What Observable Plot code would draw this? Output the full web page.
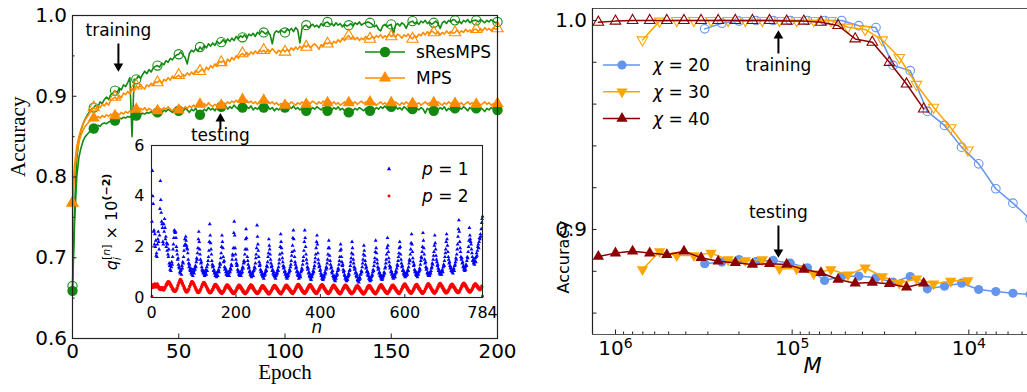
<!DOCTYPE html>
<html>
<head>
<meta charset="utf-8">
<script src="https://cdn.jsdelivr.net/npm/d3@7"></script>
<script src="https://cdn.jsdelivr.net/npm/@observablehq/plot@0.6"></script>
<style>
  html, body { margin: 0; padding: 0; background: #fff; }
  #fig { position: relative; width: 1027px; height: 392px; overflow: hidden; background: #fff; font-family: "DejaVu Sans", sans-serif; }
  #fig svg { position: absolute; overflow: visible; }
</style>
</head>
<body>
<div id="fig"></div>
<script>
// ---------------- DATA: left panel (accuracy vs epoch, epochs 0..200) ----------------
const sresTrain = [
 0.665,0.765,0.822,0.845,0.858,0.866,0.872,0.877,0.881,0.884,
 0.886,0.889,0.887,0.893,0.891,0.896,0.899,0.896,0.902,0.904,
 0.907,0.904,0.910,0.908,0.914,0.912,0.917,0.923,0.850,0.921,
 0.921,0.925,0.922,0.927,0.931,0.928,0.933,0.930,0.935,0.937,
 0.938,0.936,0.941,0.939,0.944,0.942,0.947,0.945,0.949,0.951,
 0.952,0.955,0.951,0.948,0.940,0.953,0.957,0.955,0.959,0.956,
 0.961,0.958,0.963,0.960,0.965,0.962,0.966,0.963,0.968,0.965,
 0.967,0.970,0.966,0.971,0.968,0.972,0.969,0.974,0.971,0.975,
 0.973,0.976,0.972,0.977,0.975,0.978,0.974,0.979,0.977,0.981,
 0.979,0.977,0.980,0.976,0.965,0.978,0.981,0.979,0.982,0.980,
 0.979,0.983,0.981,0.984,0.980,0.985,0.982,0.966,0.984,0.987,
 0.988,0.985,0.987,0.989,0.986,0.988,0.985,0.990,0.987,0.991,
 0.992,0.989,0.990,0.987,0.991,0.988,0.990,0.986,0.989,0.987,
 0.988,0.990,0.987,0.991,0.989,0.992,0.988,0.990,0.991,0.992,
 0.991,0.989,0.986,0.988,0.983,0.981,0.987,0.989,0.986,0.988,
 0.989,0.977,0.988,0.990,0.987,0.991,0.989,0.984,0.990,0.992,
 0.993,0.990,0.992,0.989,0.993,0.991,0.994,0.990,0.992,0.989,
 0.991,0.993,0.990,0.984,0.991,0.993,0.990,0.994,0.992,0.995,
 0.994,0.991,0.993,0.990,0.994,0.992,0.995,0.991,0.993,0.994,
 0.994,0.992,0.995,0.993,0.991,0.994,0.992,0.995,0.993,0.991,
 0.992];
const mpsTrain = [
 0.768,0.815,0.838,0.850,0.859,0.866,0.871,0.875,0.879,0.883,
 0.886,0.884,0.888,0.886,0.890,0.888,0.892,0.889,0.895,0.897,
 0.899,0.896,0.901,0.898,0.904,0.902,0.906,0.903,0.909,0.906,
 0.913,0.910,0.915,0.911,0.909,0.914,0.912,0.916,0.913,0.918,
 0.917,0.920,0.916,0.921,0.919,0.923,0.920,0.925,0.922,0.924,
 0.926,0.923,0.927,0.925,0.929,0.926,0.930,0.927,0.932,0.929,
 0.931,0.934,0.930,0.936,0.933,0.938,0.935,0.940,0.937,0.943,
 0.942,0.944,0.939,0.946,0.943,0.948,0.945,0.950,0.947,0.951,
 0.953,0.950,0.954,0.951,0.955,0.952,0.956,0.953,0.957,0.955,
 0.957,0.954,0.958,0.955,0.959,0.956,0.953,0.957,0.955,0.958,
 0.955,0.958,0.956,0.960,0.957,0.961,0.958,0.962,0.959,0.963,
 0.961,0.964,0.960,0.963,0.965,0.962,0.958,0.964,0.962,0.966,
 0.965,0.967,0.964,0.968,0.966,0.970,0.967,0.972,0.969,0.973,
 0.975,0.971,0.974,0.970,0.973,0.969,0.972,0.970,0.974,0.971,
 0.971,0.974,0.972,0.975,0.973,0.976,0.972,0.975,0.973,0.977,
 0.974,0.976,0.973,0.977,0.975,0.972,0.976,0.974,0.977,0.973,
 0.971,0.975,0.973,0.977,0.975,0.979,0.976,0.980,0.977,0.981,
 0.979,0.977,0.980,0.976,0.979,0.977,0.981,0.978,0.980,0.978,
 0.979,0.982,0.978,0.981,0.979,0.983,0.980,0.982,0.979,0.983,
 0.983,0.980,0.984,0.981,0.985,0.982,0.984,0.981,0.985,0.983,
 0.984];
const sresTest = [
 0.659,0.745,0.800,0.824,0.836,0.845,0.850,0.853,0.856,0.858,
 0.860,0.862,0.864,0.863,0.866,0.867,0.866,0.868,0.869,0.868,
 0.870,0.871,0.873,0.872,0.874,0.873,0.875,0.874,0.877,0.875,
 0.876,0.878,0.877,0.879,0.878,0.880,0.879,0.881,0.878,0.880,
 0.880,0.882,0.879,0.883,0.881,0.884,0.882,0.880,0.883,0.881,
 0.882,0.884,0.881,0.885,0.883,0.880,0.884,0.882,0.885,0.880,
 0.877,0.881,0.884,0.882,0.886,0.883,0.885,0.882,0.886,0.884,
 0.887,0.885,0.888,0.884,0.887,0.885,0.889,0.886,0.884,0.887,
 0.886,0.884,0.887,0.885,0.888,0.883,0.886,0.884,0.887,0.885,
 0.886,0.883,0.887,0.884,0.886,0.882,0.885,0.883,0.886,0.884,
 0.886,0.884,0.887,0.885,0.888,0.884,0.886,0.883,0.885,0.884,
 0.882,0.885,0.883,0.886,0.884,0.887,0.885,0.883,0.886,0.884,
 0.882,0.885,0.883,0.886,0.884,0.887,0.883,0.885,0.882,0.884,
 0.880,0.884,0.882,0.885,0.883,0.886,0.884,0.882,0.885,0.883,
 0.882,0.885,0.883,0.886,0.884,0.887,0.885,0.888,0.885,0.886,
 0.887,0.885,0.888,0.884,0.886,0.883,0.887,0.885,0.882,0.886,
 0.884,0.881,0.885,0.883,0.886,0.884,0.879,0.885,0.883,0.886,
 0.882,0.885,0.883,0.886,0.884,0.887,0.882,0.885,0.883,0.886,
 0.885,0.883,0.886,0.884,0.887,0.885,0.882,0.886,0.884,0.887,
 0.885,0.883,0.886,0.884,0.881,0.885,0.883,0.886,0.884,0.882,
 0.883];
const mpsTest = [
 0.768,0.808,0.828,0.843,0.852,0.858,0.863,0.866,0.869,0.871,
 0.873,0.872,0.875,0.873,0.876,0.874,0.877,0.875,0.878,0.876,
 0.876,0.879,0.877,0.880,0.878,0.881,0.879,0.882,0.880,0.883,
 0.884,0.882,0.885,0.883,0.886,0.882,0.885,0.883,0.881,0.884,
 0.882,0.885,0.883,0.886,0.884,0.887,0.884,0.882,0.885,0.883,
 0.883,0.886,0.884,0.887,0.885,0.888,0.886,0.889,0.887,0.890,
 0.890,0.887,0.891,0.888,0.892,0.889,0.887,0.890,0.888,0.891,
 0.889,0.892,0.890,0.893,0.891,0.894,0.892,0.895,0.893,0.896,
 0.896,0.893,0.895,0.892,0.894,0.891,0.893,0.890,0.894,0.892,
 0.895,0.892,0.894,0.891,0.893,0.890,0.892,0.889,0.891,0.890,
 0.889,0.892,0.890,0.893,0.891,0.889,0.892,0.890,0.893,0.891,
 0.890,0.893,0.891,0.894,0.892,0.890,0.893,0.891,0.894,0.892,
 0.892,0.894,0.891,0.893,0.890,0.892,0.889,0.891,0.893,0.890,
 0.892,0.894,0.891,0.893,0.890,0.892,0.894,0.891,0.893,0.892,
 0.893,0.890,0.892,0.889,0.891,0.893,0.890,0.892,0.889,0.891,
 0.892,0.890,0.893,0.891,0.889,0.892,0.890,0.893,0.891,0.889,
 0.891,0.893,0.890,0.892,0.889,0.891,0.893,0.890,0.892,0.891,
 0.892,0.890,0.893,0.891,0.889,0.892,0.890,0.893,0.891,0.892,
 0.891,0.893,0.890,0.892,0.889,0.891,0.893,0.890,0.892,0.890,
 0.890,0.892,0.889,0.891,0.893,0.890,0.892,0.889,0.891,0.890,
 0.891];
const leftXTicks = [0, 50, 100, 150, 200];
const leftYTicks = [0.6, 0.7, 0.8, 0.9, 1.0];
const leftYMinor = [0.65, 0.75, 0.85, 0.95];

// ---------------- DATA: inset q_i^[n] (n = 1..784, 28 rows of 28) ----------------
const qP1Rows = [
 [3.0,5.0,4.0,3.7,2.6,2.65,2.1,2.5,2.0,2.25,1.65,1.75,1.6,2.1,2.3,2.6,2.2,1.9,2.45,3.5,4.6,3.85,3.35,3.0,2.9,2.75,2.2,2.1],
 [2.9,2.6,3.1,2.75,2.3,2.4,2.0,2.15,1.85,2.1,1.7,1.6,1.9,1.35,1.25,1.1,1.3,1.05,1.2,1.4,1.3,1.6,1.9,2.1,2.35,2.65,2.6,2.55],
 [2.6,2.35,2.0,1.85,1.7,1.5,1.55,1.3,1.2,1.15,1.0,0.95,1.05,1.1,0.9,1.25,1.15,1.4,1.35,1.6,1.85,2.05,2.3,2.1,2.4,2.25,2.05,1.95],
 [1.9,1.75,1.5,1.35,1.2,1.3,1.1,1.05,1.15,0.95,1.0,0.9,1.1,0.85,1.0,1.05,0.95,1.15,1.1,1.25,1.2,1.4,1.55,1.5,1.75,1.95,2.3,2.6],
 [2.2,1.9,1.7,1.5,1.35,1.4,1.2,1.1,1.05,1.0,0.95,1.05,0.9,0.85,0.95,1.0,1.1,0.9,1.2,1.05,1.3,1.45,1.6,1.85,2.2,2.9,2.45,2.15],
 [1.9,1.7,1.45,1.3,1.2,1.25,1.05,1.1,0.95,1.0,0.85,0.9,0.95,0.8,0.9,1.0,0.85,1.05,1.1,1.0,1.2,1.35,1.3,1.55,1.75,2.0,2.45,2.2],
 [1.95,1.6,1.4,1.45,1.2,1.1,1.15,1.0,0.9,1.05,0.95,0.85,0.9,1.0,0.95,0.85,1.05,1.0,1.15,1.1,1.3,1.25,1.5,1.7,1.65,1.95,2.55,3.0],
 [2.45,1.95,1.7,1.5,1.35,1.25,1.3,1.1,1.0,1.05,0.9,0.95,0.85,0.9,1.0,0.85,0.95,1.1,1.0,1.2,1.15,1.35,1.45,1.4,1.7,1.9,2.3,2.7],
 [2.35,1.9,1.6,1.45,1.3,1.15,1.2,1.0,1.05,0.9,0.95,0.85,0.8,0.9,0.95,1.0,0.85,1.05,1.1,1.2,1.15,1.35,1.55,1.7,1.95,2.85,2.4,2.1],
 [1.85,1.6,1.4,1.25,1.3,1.1,1.0,1.05,0.9,0.95,0.85,0.8,0.9,0.75,0.85,0.95,0.9,1.0,1.1,1.05,1.25,1.2,1.4,1.6,1.75,2.3,2.05,1.9],
 [1.7,1.5,1.35,1.2,1.25,1.05,1.1,0.95,0.9,1.0,0.85,0.8,0.9,0.75,0.85,0.9,1.0,0.95,1.1,1.05,1.2,1.35,1.5,1.7,2.0,2.5,2.2,1.95],
 [1.75,1.55,1.4,1.25,1.15,1.2,1.0,1.05,0.9,0.95,0.8,0.85,0.75,0.8,0.9,0.85,0.95,1.0,1.1,1.05,1.2,1.3,1.45,1.65,1.8,2.05,2.35,2.65],
 [2.3,1.85,1.6,1.4,1.3,1.15,1.2,1.0,1.05,0.9,0.85,0.95,0.75,0.8,0.85,0.9,0.8,1.0,1.05,1.15,1.1,1.3,1.45,1.6,1.85,2.2,2.65,2.35],
 [2.0,1.7,1.5,1.35,1.2,1.1,1.15,0.95,1.0,0.85,0.8,0.9,0.75,0.7,0.85,0.8,0.9,0.95,1.05,1.0,1.15,1.25,1.4,1.55,1.7,1.95,2.2,2.45],
 [2.1,1.75,1.5,1.35,1.2,1.25,1.05,1.1,0.95,0.85,0.9,0.75,0.8,0.7,0.75,0.85,0.8,0.9,1.0,0.95,1.1,1.2,1.15,1.35,1.5,1.7,1.95,2.25],
 [1.95,1.65,1.45,1.3,1.15,1.2,1.0,0.95,1.05,0.85,0.8,0.75,0.85,0.7,0.65,0.8,0.75,0.85,0.95,0.9,1.05,1.15,1.1,1.3,1.45,1.6,1.85,2.1],
 [1.9,1.6,1.4,1.25,1.3,1.1,1.0,1.05,0.9,0.85,0.75,0.8,0.7,0.65,0.75,0.7,0.8,0.85,0.95,0.9,1.05,1.1,1.25,1.4,1.55,1.75,2.2,1.95],
 [1.7,1.5,1.35,1.2,1.1,1.15,0.95,1.0,0.85,0.8,0.9,0.7,0.65,0.75,0.6,0.7,0.8,0.75,0.9,0.95,1.05,1.0,1.2,1.35,1.5,1.7,2.05,1.85],
 [1.65,1.45,1.3,1.15,1.2,1.0,1.05,0.9,0.85,0.95,0.75,0.8,0.7,0.65,0.75,0.7,0.8,0.85,0.9,1.0,1.1,1.05,1.25,1.4,1.55,1.8,2.25,1.95],
 [1.75,1.5,1.35,1.2,1.1,1.15,0.95,1.0,0.85,0.9,0.8,0.75,0.85,0.7,0.75,0.8,0.85,0.9,1.0,0.95,1.15,1.2,1.35,1.5,1.7,1.95,2.35,2.05],
 [1.8,1.55,1.4,1.25,1.15,1.2,1.0,1.05,0.9,0.95,0.8,0.85,0.75,0.8,0.85,0.9,0.8,0.95,1.05,1.0,1.15,1.3,1.25,1.45,1.6,1.75,1.95,2.2],
 [2.0,1.7,1.5,1.35,1.2,1.25,1.05,1.1,0.95,0.9,1.0,0.85,0.8,0.9,0.85,0.95,1.0,0.9,1.1,1.05,1.2,1.35,1.5,1.45,1.7,1.9,2.15,2.5],
 [2.1,1.8,1.55,1.4,1.25,1.3,1.1,1.0,1.05,0.9,0.95,0.85,0.9,0.8,0.95,0.9,1.0,1.05,1.15,1.1,1.3,1.45,1.6,1.55,1.8,2.0,2.55,2.25],
 [1.95,1.7,1.5,1.35,1.4,1.2,1.1,1.15,0.95,1.0,0.9,0.85,0.95,0.85,0.9,1.0,0.95,1.05,1.15,1.2,1.35,1.3,1.5,1.65,1.8,2.05,2.45,2.15],
 [1.9,1.65,1.5,1.4,1.25,1.3,1.15,1.05,1.1,0.95,1.0,0.9,0.95,1.0,0.9,1.05,1.1,1.0,1.2,1.3,1.25,1.45,1.6,1.75,1.9,2.2,2.5,2.3],
 [2.05,1.8,1.6,1.5,1.35,1.4,1.25,1.15,1.2,1.05,1.1,1.0,1.05,0.95,1.1,1.15,1.05,1.25,1.3,1.4,1.55,1.5,1.7,1.9,2.1,2.4,2.7,3.05],
 [2.6,2.2,1.95,1.8,1.6,1.5,1.55,1.35,1.4,1.2,1.25,1.1,1.15,1.05,1.2,1.1,1.3,1.25,1.45,1.6,1.55,1.8,2.0,2.25,2.75,2.45,2.3,2.2],
 [2.1,1.9,1.75,1.6,1.45,1.5,1.35,1.4,1.3,1.45,1.55,1.4,1.6,1.75,1.65,1.85,2.0,2.1,1.95,2.2,2.35,2.3,2.5,2.4,2.7,2.95,3.1,3.2]
];
const qP2Rows = [
 [0.05,0.45,0.38,0.52,0.42,0.5,0.4,0.55,0.44,0.52,0.4,0.5,0.42,0.55,0.45,0.48,0.36,0.42,0.32,0.4,0.3,0.38,0.33,0.4,0.3,0.36,0.32,0.4],
 [0.28,0.36,0.32,0.42,0.38,0.5,0.45,0.56,0.5,0.62,0.55,0.64,0.56,0.62,0.52,0.58,0.46,0.52,0.4,0.45,0.33,0.38,0.28,0.33,0.24,0.3,0.23,0.28],
 [0.24,0.3,0.28,0.38,0.36,0.48,0.45,0.58,0.55,0.66,0.6,0.72,0.64,0.7,0.6,0.65,0.52,0.57,0.44,0.48,0.35,0.4,0.28,0.33,0.22,0.27,0.2,0.25],
 [0.22,0.28,0.26,0.35,0.33,0.45,0.42,0.54,0.5,0.62,0.55,0.64,0.57,0.62,0.52,0.57,0.45,0.5,0.38,0.42,0.3,0.35,0.24,0.29,0.19,0.25,0.18,0.23],
 [0.2,0.27,0.25,0.34,0.32,0.43,0.4,0.52,0.48,0.58,0.52,0.61,0.53,0.58,0.48,0.53,0.42,0.46,0.35,0.39,0.28,0.33,0.22,0.27,0.18,0.23,0.17,0.22],
 [0.19,0.26,0.23,0.33,0.29,0.41,0.36,0.47,0.41,0.52,0.44,0.53,0.43,0.5,0.39,0.46,0.34,0.4,0.28,0.34,0.23,0.29,0.19,0.25,0.16,0.22,0.15,0.21],
 [0.18,0.25,0.22,0.32,0.28,0.4,0.35,0.46,0.4,0.5,0.42,0.51,0.41,0.48,0.37,0.44,0.32,0.38,0.27,0.33,0.22,0.28,0.18,0.24,0.15,0.21,0.14,0.2],
 [0.18,0.24,0.21,0.31,0.27,0.38,0.33,0.44,0.38,0.49,0.41,0.5,0.4,0.47,0.36,0.43,0.31,0.37,0.26,0.32,0.21,0.27,0.17,0.23,0.14,0.2,0.14,0.19],
 [0.18,0.25,0.22,0.32,0.28,0.39,0.34,0.45,0.39,0.5,0.42,0.51,0.41,0.48,0.37,0.44,0.32,0.38,0.27,0.32,0.22,0.27,0.18,0.23,0.15,0.21,0.14,0.2],
 [0.17,0.24,0.21,0.3,0.26,0.37,0.32,0.43,0.37,0.47,0.39,0.48,0.38,0.45,0.34,0.41,0.3,0.36,0.25,0.31,0.2,0.26,0.16,0.22,0.13,0.19,0.13,0.18],
 [0.17,0.24,0.22,0.31,0.27,0.38,0.33,0.44,0.38,0.48,0.4,0.49,0.39,0.46,0.35,0.42,0.31,0.37,0.26,0.31,0.21,0.26,0.17,0.22,0.14,0.2,0.13,0.19],
 [0.18,0.25,0.22,0.32,0.28,0.39,0.34,0.45,0.39,0.49,0.41,0.5,0.4,0.47,0.36,0.43,0.32,0.38,0.27,0.33,0.22,0.28,0.18,0.24,0.15,0.21,0.14,0.2],
 [0.19,0.26,0.23,0.34,0.3,0.41,0.36,0.47,0.41,0.52,0.44,0.53,0.43,0.5,0.39,0.45,0.34,0.4,0.28,0.34,0.23,0.29,0.19,0.25,0.16,0.22,0.15,0.21],
 [0.18,0.25,0.22,0.33,0.29,0.4,0.35,0.46,0.4,0.51,0.43,0.52,0.42,0.49,0.38,0.44,0.33,0.39,0.27,0.33,0.22,0.28,0.18,0.24,0.15,0.21,0.14,0.2],
 [0.18,0.25,0.23,0.33,0.29,0.4,0.35,0.46,0.4,0.5,0.42,0.52,0.42,0.49,0.38,0.45,0.33,0.39,0.28,0.33,0.22,0.28,0.18,0.24,0.15,0.21,0.14,0.2],
 [0.17,0.24,0.21,0.31,0.27,0.38,0.33,0.44,0.39,0.49,0.41,0.5,0.4,0.47,0.36,0.42,0.31,0.37,0.26,0.32,0.21,0.27,0.17,0.23,0.14,0.2,0.13,0.19],
 [0.17,0.24,0.22,0.32,0.28,0.39,0.34,0.45,0.39,0.49,0.41,0.5,0.4,0.47,0.36,0.43,0.31,0.37,0.26,0.32,0.21,0.27,0.17,0.23,0.14,0.2,0.14,0.19],
 [0.17,0.23,0.21,0.3,0.26,0.37,0.32,0.43,0.37,0.47,0.39,0.48,0.38,0.45,0.34,0.41,0.3,0.36,0.25,0.3,0.2,0.26,0.16,0.22,0.13,0.19,0.13,0.18],
 [0.17,0.24,0.21,0.31,0.27,0.38,0.33,0.44,0.38,0.48,0.4,0.49,0.39,0.46,0.35,0.42,0.31,0.36,0.26,0.31,0.21,0.26,0.17,0.22,0.14,0.2,0.13,0.19],
 [0.18,0.25,0.22,0.32,0.28,0.4,0.35,0.46,0.4,0.5,0.42,0.52,0.41,0.49,0.37,0.44,0.33,0.38,0.27,0.33,0.22,0.28,0.18,0.24,0.15,0.21,0.14,0.2],
 [0.18,0.25,0.22,0.32,0.28,0.39,0.34,0.45,0.39,0.49,0.41,0.5,0.4,0.47,0.37,0.43,0.32,0.38,0.27,0.32,0.22,0.27,0.18,0.23,0.15,0.21,0.14,0.2],
 [0.19,0.26,0.24,0.34,0.31,0.42,0.37,0.48,0.42,0.53,0.45,0.55,0.44,0.52,0.4,0.46,0.35,0.41,0.29,0.35,0.24,0.29,0.19,0.25,0.16,0.22,0.15,0.21],
 [0.18,0.25,0.23,0.33,0.29,0.4,0.35,0.47,0.41,0.51,0.43,0.53,0.42,0.5,0.38,0.45,0.33,0.39,0.28,0.34,0.23,0.28,0.18,0.24,0.15,0.21,0.15,0.2],
 [0.19,0.26,0.24,0.34,0.31,0.42,0.37,0.49,0.43,0.54,0.46,0.56,0.45,0.52,0.41,0.47,0.36,0.42,0.3,0.35,0.24,0.3,0.2,0.26,0.16,0.22,0.16,0.21],
 [0.2,0.27,0.25,0.35,0.32,0.43,0.38,0.5,0.44,0.55,0.47,0.57,0.46,0.53,0.42,0.48,0.37,0.43,0.31,0.36,0.25,0.31,0.21,0.27,0.17,0.23,0.17,0.22],
 [0.2,0.27,0.24,0.34,0.31,0.42,0.37,0.48,0.42,0.52,0.44,0.54,0.44,0.51,0.4,0.46,0.36,0.41,0.3,0.36,0.25,0.3,0.21,0.27,0.18,0.24,0.18,0.23],
 [0.21,0.29,0.27,0.37,0.34,0.45,0.4,0.52,0.46,0.56,0.49,0.58,0.48,0.55,0.44,0.5,0.39,0.45,0.33,0.38,0.27,0.33,0.23,0.29,0.2,0.26,0.2,0.25],
 [0.24,0.31,0.29,0.38,0.35,0.46,0.41,0.51,0.45,0.55,0.47,0.55,0.45,0.51,0.41,0.47,0.37,0.43,0.33,0.39,0.3,0.36,0.3,0.38,0.36,0.46,0.42,0.05]
];
const insetXTicks = [0, 200, 400, 600, 784];
const insetYTicks = [0, 2, 4, 6];

// ---------------- DATA: right panel (accuracy vs M) ----------------
const M20 = [312500,250000,200000,160000,128000,102400,81920,65536,52429,41943,33554,26844,21475,17180,13744,10995,8796,7037,5629,4504];
const M30 = [703125,562500,450000,360000,288000,230400,184320,147456,117965,94372,75497,60398,48318,38655,30924,24739,19791,15833,12667,10133];
const M40 = [1250000,1000000,800000,640000,512000,409600,327680,262144,209715,167772,134218,107374,85899,68719,54976,43980,35184,28147,22518,18014];
const train20 = [0.996,0.9987,0.9997,1.0,1.0,1.0,1.0,1.0,1.0,0.9975,0.9966,0.9785,0.976,0.9565,0.9498,0.9394,0.9314,0.9195,0.9126,0.905];
const test20  = [0.8836,0.8844,0.8856,0.8847,0.8852,0.8839,0.8817,0.8756,0.8775,0.8777,0.8769,0.8748,0.8775,0.8716,0.8729,0.8743,0.8713,0.8703,0.8695,0.8689];
const train30 = [0.9907,0.9997,1.0,1.0,1.0,1.0,1.0,1.0,1.0,1.0,1.0,1.0,0.9968,0.9957,0.9907,0.9823,0.9694,0.9585,0.9487,0.938];
const test30  = [0.8809,0.8895,0.8876,0.8876,0.8887,0.8856,0.8852,0.8856,0.8812,0.8812,0.8788,0.8809,0.8783,0.8817,0.8775,0.8743,0.8764,0.874,0.8753,0.8756];
const train40 = [0.9992,0.9997,1.0,1.0,1.0,1.0,1.0,1.0,1.0,1.0,1.0,0.9997,0.9997,0.9992,0.9976,0.9912,0.9896,0.98,0.9696,0.9577];
const test40  = [0.8871,0.8887,0.8896,0.8887,0.8879,0.8896,0.8865,0.8848,0.8841,0.8833,0.8836,0.8833,0.8809,0.8793,0.8761,0.8743,0.8746,0.874,0.8724,0.8743];
const rightXTicks = [1e6, 1e5, 1e4];
const rightXMinor = [9e5,8e5,7e5,6e5,5e5,4e5,3e5,2e5,9e4,8e4,7e4,6e4,5e4,4e4,3e4,2e4,9e3,8e3,7e3,6e3,5e3];
const rightYTicks = [0.86,0.88,0.9,0.92,0.94,0.96,0.98,1.0];
const rightYLabeled = [0.9, 1.0];

// ---------------- styling / layout ----------------
const SANS = "DejaVu Sans, sans-serif";
const SERIF = "Liberation Serif, Times New Roman, serif";
const GREEN = "#128a12", ORANGE = "#ff8c00";
const C20 = "#6495ed", C30 = "#ffa500", C40 = "#8b0000";
const AX = "#222";

const fig = document.getElementById("fig");

// ---- left panel ----
const toEp = arr => arr.map((acc, epoch) => ({epoch, acc}));
const gTr = toEp(sresTrain), oTr = toEp(mpsTrain), gTe = toEp(sresTest), oTe = toEp(mpsTest);
const every10 = d => d.epoch % 10 === 0;

const leftNotes = [{label: "training", epoch: 21.6, acc: 0.9814}, {label: "testing", epoch: 69.6, acc: 0.8513}];
const leftArrows = [
  {epoch: 21.6, from: 0.9653, to: 0.9380, head: 0.9372, rot: 180},
  {epoch: 69.6, from: 0.8587, to: 0.8715, head: 0.8722, rot: 0}
];

const left = Plot.plot({
  width: 520, height: 392,
  marginLeft: 72, marginRight: 23, marginTop: 15, marginBottom: 54,
  x: {domain: [0, 200]},
  y: {domain: [0.6, 1.0]},
  style: {fontFamily: SANS, fontSize: "20px", background: "transparent", overflow: "visible", color: "#000", position: "absolute", left: "0px", top: "0px"},
  marks: [
    Plot.line(gTr, {x: "epoch", y: "acc", stroke: GREEN, strokeWidth: 1.6}),
    Plot.dot(gTr, {filter: every10, x: "epoch", y: "acc", r: 4.6, stroke: GREEN, strokeWidth: 1.1, fill: "none"}),
    Plot.line(oTr, {x: "epoch", y: "acc", stroke: ORANGE, strokeWidth: 1.6}),
    Plot.dot(oTr, {filter: every10, x: "epoch", y: "acc", symbol: "triangle", r: 4.2, stroke: ORANGE, strokeWidth: 1.1, fill: "none"}),
    Plot.line(gTe, {x: "epoch", y: "acc", stroke: GREEN, strokeWidth: 1.6}),
    Plot.dot(gTe, {filter: every10, x: "epoch", y: "acc", r: 5.2, fill: GREEN}),
    Plot.line(oTe, {x: "epoch", y: "acc", stroke: ORANGE, strokeWidth: 1.6}),
    Plot.dot(oTe, {filter: every10, x: "epoch", y: "acc", symbol: "triangle", r: 4.5, fill: ORANGE}),
    Plot.axisX({ticks: leftXTicks, tickSize: -4.5, tickPadding: 9.5, fontSize: 20, label: null, stroke: AX}),
    Plot.axisY({ticks: leftYTicks, tickSize: -4.5, tickPadding: 10, tickFormat: d => d.toFixed(1), fontSize: 20, label: null, stroke: AX}),
    Plot.axisY({ticks: leftYMinor, tickSize: -2.5, tickFormat: () => "", label: null, stroke: AX}),
    Plot.frame({stroke: AX, strokeWidth: 1.2}),
    Plot.text(["Accuracy"], {frameAnchor: "left", dx: -54, rotate: -90, fontFamily: SERIF, fontSize: 21}),
    Plot.text(["Epoch"], {frameAnchor: "bottom", dy: 40.5, fontFamily: SERIF, fontSize: 21}),
    Plot.text(leftNotes, {x: "epoch", y: "acc", text: "label", fontSize: 17}),
    Plot.link(leftArrows, {x1: "epoch", x2: "epoch", y1: "from", y2: "to", stroke: "black", strokeWidth: 2}),
    Plot.dot(leftArrows, {x: "epoch", y: "head", symbol: "triangle", r: 3.6, fill: "black", rotate: "rot"})
  ]
});
fig.appendChild(left);

// left legend
{
  const items = [
    {label: "sResMPS", color: GREEN, sym: d3.symbolCircle, size: 85},
    {label: "MPS", color: ORANGE, sym: d3.symbolTriangle, size: 64}
  ];
  const g = d3.select(left).append("g").attr("font-size", 17).attr("font-family", SANS).attr("text-anchor", "start");
  items.forEach((it, i) => {
    const y = 52 + i * 26;
    g.append("line").attr("x1", 365).attr("x2", 405).attr("y1", y).attr("y2", y).attr("stroke", it.color).attr("stroke-width", 1.6);
    g.append("path").attr("transform", `translate(385,${y})`).attr("d", d3.symbol(it.sym, it.size)()).attr("fill", it.color);
    g.append("text").attr("x", 416).attr("y", y).attr("dy", "0.36em").attr("text-anchor", "start").text(it.label);
  });
}

// ---- inset ----
const toQ = rows => rows.flatMap((row, r) => row.map((q, j) => ({n: r * 28 + j + 1, q})));
const qBlue = toQ(qP1Rows), qRed = toQ(qP2Rows);

const inset = Plot.plot({
  width: 400, height: 210,
  marginLeft: 51, marginRight: 18, marginTop: 15, marginBottom: 43,
  x: {domain: [0, 784]},
  y: {domain: [0, 6]},
  style: {fontFamily: SANS, fontSize: "16px", background: "transparent", overflow: "visible", color: "#000", position: "absolute", left: "100px", top: "130px"},
  marks: [
    Plot.frame({fill: "white", stroke: "none"}),
    Plot.dot(qBlue, {x: "n", y: "q", symbol: "triangle", r: 1.45, fill: "#0000ff"}),
    Plot.dot(qRed, {x: "n", y: "q", r: 1.4, fill: "#ff0000"}),
    Plot.axisX({ticks: insetXTicks, tickSize: -3, tickPadding: 12, fontSize: 16, label: null, stroke: AX}),
    Plot.axisY({ticks: insetYTicks, tickSize: -3, tickPadding: 10, tickFormat: d => String(d), fontSize: 16, label: null, stroke: AX}),
    Plot.frame({stroke: AX, strokeWidth: 1.1}),
    Plot.text(["n"], {frameAnchor: "bottom", dy: 35, fontStyle: "italic", fontSize: 17})
  ]
});
fig.appendChild(inset);
{
  const s = d3.select(inset);
  const t = s.append("text").attr("transform", "translate(17,92) rotate(-90)").attr("text-anchor", "middle")
    .attr("font-size", 16).attr("font-family", SANS);
  t.append("tspan").attr("font-style", "italic").text("q");
  t.append("tspan").attr("font-style", "italic").attr("font-size", 11).attr("dy", 4).text("i");
  t.append("tspan").attr("font-size", 11).attr("dx", -3).attr("dy", -11).text("[");
  t.append("tspan").attr("font-size", 11).attr("font-style", "italic").text("n");
  t.append("tspan").attr("font-size", 11).text("]");
  t.append("tspan").attr("dy", 7).text(" × 10");
  t.append("tspan").attr("font-size", 11).attr("font-weight", "bold").attr("dy", -7).text("(−2)");
  const items = [
    {txt: "1", color: "#0000ff", sym: d3.symbolTriangle, size: 8},
    {txt: "2", color: "#ff0000", sym: d3.symbolCircle, size: 7}
  ];
  items.forEach((it, i) => {
    const y = 39 + i * 27;
    s.append("path").attr("transform", `translate(289,${y})`).attr("d", d3.symbol(it.sym, it.size)()).attr("fill", it.color);
    const tx = s.append("text").attr("x", 322).attr("y", y).attr("dy", "0.36em").attr("text-anchor", "start")
      .attr("font-size", 17).attr("font-family", SANS);
    tx.append("tspan").attr("font-style", "italic").text("p");
    tx.append("tspan").text(" = " + it.txt);
  });
}

// ---- right panel ----
const toM = (Ms, accs) => Ms.map((M, i) => ({M, acc: accs[i]}));
const r20tr = toM(M20, train20), r20te = toM(M20, test20);
const r30tr = toM(M30, train30), r30te = toM(M30, test30);
const r40tr = toM(M40, train40), r40te = toM(M40, test40);
const rightXDomain = [4656, 1349000];
const rightYDomain = [0.84976, 1.00574];

const rightNotes = [{label: "training", M: 119600, acc: 0.97847}, {label: "testing", M: 119600, acc: 0.90813}];
const rightArrows = [
  {M: 119600, from: 0.98421, to: 0.99250, head: 0.99268, rot: 0},
  {M: 119600, from: 0.90191, to: 0.88930, head: 0.88914, rot: 180}
];

const right = Plot.plot({
  width: 492, height: 392,
  marginLeft: 57, marginRight: 0, marginTop: 8, marginBottom: 58,
  x: {type: "log", domain: rightXDomain, reverse: true},
  y: {domain: rightYDomain},
  style: {fontFamily: SANS, fontSize: "20px", background: "transparent", overflow: "visible", color: "#000", position: "absolute", left: "535px", top: "0px"},
  marks: [
    Plot.line(r20tr, {x: "M", y: "acc", stroke: C20, strokeWidth: 1.5}),
    Plot.dot(r20tr, {x: "M", y: "acc", r: 4.3, stroke: C20, strokeWidth: 1.1, fill: "none"}),
    Plot.line(r20te, {x: "M", y: "acc", stroke: C20, strokeWidth: 1.5}),
    Plot.dot(r20te, {x: "M", y: "acc", r: 4.6, fill: C20}),
    Plot.line(r30tr, {x: "M", y: "acc", stroke: C30, strokeWidth: 1.5}),
    Plot.dot(r30tr, {x: "M", y: "acc", symbol: "triangle", rotate: 180, r: 3.9, stroke: C30, strokeWidth: 1.1, fill: "none"}),
    Plot.line(r30te, {x: "M", y: "acc", stroke: C30, strokeWidth: 1.5}),
    Plot.dot(r30te, {x: "M", y: "acc", symbol: "triangle", rotate: 180, r: 4.2, fill: C30}),
    Plot.line(r40tr, {x: "M", y: "acc", stroke: C40, strokeWidth: 1.5}),
    Plot.dot(r40tr, {x: "M", y: "acc", symbol: "triangle", r: 3.9, stroke: C40, strokeWidth: 1.1, fill: "none"}),
    Plot.line(r40te, {x: "M", y: "acc", stroke: C40, strokeWidth: 1.5}),
    Plot.dot(r40te, {x: "M", y: "acc", symbol: "triangle", r: 4.2, fill: C40}),
    Plot.axisX({ticks: rightXTicks, tickSize: -4.5, tickPadding: 10.5, tickFormat: d => "10^" + Math.round(Math.log10(d)), fontSize: 20, label: null, stroke: AX}),
    Plot.axisX({ticks: rightXMinor, tickSize: -2.5, tickFormat: () => "", label: null, stroke: AX}),
    Plot.axisY({ticks: rightYTicks, tickSize: -4.5, tickPadding: 10, tickFormat: d => rightYLabeled.includes(d) ? d.toFixed(1) : "", fontSize: 20, label: null, stroke: AX}),
    Plot.ruleY(rightYDomain, {stroke: "#555", strokeWidth: 1.2}),
    Plot.ruleX([rightXDomain[1]], {stroke: AX, strokeWidth: 1.2}),
    Plot.text(["Accuracy"], {frameAnchor: "left", dx: -29, dy: 122, rotate: -90, fontSize: 16}),
    Plot.text(["M"], {frameAnchor: "bottom", dx: 2.5, dy: 38, fontStyle: "italic", fontSize: 21}),
    Plot.text(rightNotes, {x: "M", y: "acc", text: "label", fontSize: 17}),
    Plot.link(rightArrows, {x1: "M", x2: "M", y1: "from", y2: "to", stroke: "black", strokeWidth: 2}),
    Plot.dot(rightArrows, {x: "M", y: "head", symbol: "triangle", r: 3.6, fill: "black", rotate: "rot"})
  ]
});
fig.appendChild(right);
{
  const s = d3.select(right);
  s.selectAll('g[aria-label="x-axis tick label"] text').each(function () {
    const str = this.textContent;
    if (!str.startsWith("10^")) return;
    const exp = str.slice(3);
    const el = d3.select(this);
    el.text("10");
    el.append("tspan").attr("dy", "-0.5em").attr("font-size", "14px").text(exp);
  });
  const items = [
    {v: "20", color: C20, sym: d3.symbolCircle, size: 66, rot: 0},
    {v: "30", color: C30, sym: d3.symbolTriangle, size: 55, rot: 180},
    {v: "40", color: C40, sym: d3.symbolTriangle, size: 55, rot: 0}
  ];
  const g = s.append("g").attr("font-family", SANS).attr("font-size", 17).attr("text-anchor", "start");
  items.forEach((it, i) => {
    const y = 65 + i * 26.7;
    g.append("line").attr("x1", 68).attr("x2", 105).attr("y1", y).attr("y2", y).attr("stroke", it.color).attr("stroke-width", 1.5);
    g.append("path").attr("transform", `translate(87,${y}) rotate(${it.rot})`).attr("d", d3.symbol(it.sym, it.size)()).attr("fill", it.color);
    const tx = g.append("text").attr("x", 118).attr("y", y).attr("dy", "0.36em").attr("text-anchor", "start");
    tx.append("tspan").attr("font-style", "italic").text("χ");
    tx.append("tspan").text(" = " + it.v);
  });
}
</script>
</body>
</html>
